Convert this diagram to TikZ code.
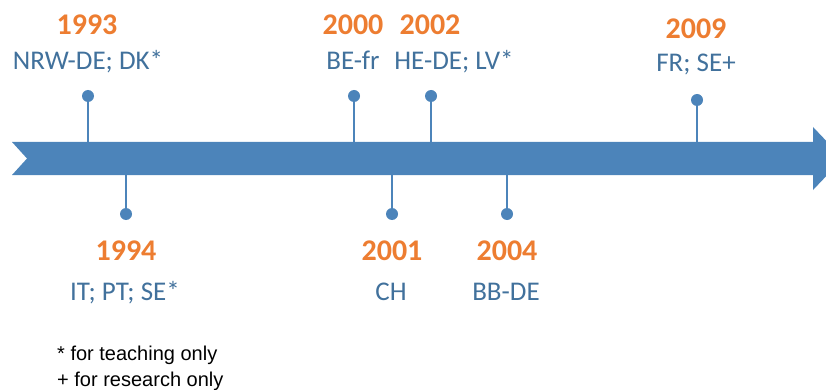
\documentclass[tikz,border=0pt]{standalone}
\usepackage{fontspec}
\setmainfont{Carlito}
\newfontfamily\arialf{Liberation Sans}
\definecolor{band}{HTML}{4C84BA}
\definecolor{lbl}{HTML}{41719C}
\definecolor{yr}{HTML}{ED7D31}
\begin{document}
\begin{tikzpicture}[x=1pt,y=-1pt,
  year/.style={text=yr,font=\fontsize{30}{32}\selectfont\bfseries,inner sep=0pt,anchor=base},
  lab/.style={text=lbl,font=\fontsize{27}{29}\selectfont,inner sep=0pt,anchor=base},
  pin/.style={circle,fill=band,minimum size=12pt,inner sep=0pt},
  stem/.style={draw=band,line width=2pt}]
\useasboundingbox (0,0) rectangle (826,390);
\begin{scope}
\clip (0,0) rectangle (826,390);
\fill[band] (12,142) -- (813,142) -- (813,127) -- (843,158.5) -- (813,190) -- (813,175) -- (12,175) -- (27,158.5) -- cycle;
\end{scope}
\coordinate (bt) at (0,142);
\coordinate (bb) at (0,175);
% above
\node[pin] (p93) at (88,96) {};
\node[pin] (p00) at (354,96) {};
\node[pin] (p02) at (431,96) {};
\node[pin] (p09) at (697,100) {};
% below
\node[pin] (p94) at (126,214) {};
\node[pin] (p01) at (392,214) {};
\node[pin] (p04) at (507,214) {};
\foreach \p in {p93,p00,p02,p09} \draw[stem] (\p.center) -- (\p |- bt);
\foreach \p in {p94,p01,p04} \draw[stem] (\p.center) -- (\p |- bb);
\node[year] (y93) at (87,35) {1993};
\node[lab] (l93) at (88,70) {NRW-DE; DK*};
\node[year] (y00) at (353,35) {2000};
\node[lab] (l00) at (353,70) {BE-fr};
\node[year] (y02) at (430,35) {2002};
\node[lab] (l02) at (454,70) {HE-DE; LV*};
\node[year] (y09) at (696,39) {2009};
\node[lab] (l09) at (696,72) {FR; SE+};
\node[year] (y94) at (126,260) {1994};
\node[lab] (l94) at (125,300) {IT; PT; SE*};
\node[year] (y01) at (392,260) {2001};
\node[lab] (l01) at (391,300) {CH};
\node[year] (y04) at (507,260) {2004};
\node[lab] (l04) at (506,300) {BB-DE};
\node[anchor=base west,inner sep=0pt,align=left,font=\arialf\fontsize{20}{26}\selectfont] (note) at (57,386) {* for teaching only\\+ for research only};
\end{tikzpicture}
\end{document}
